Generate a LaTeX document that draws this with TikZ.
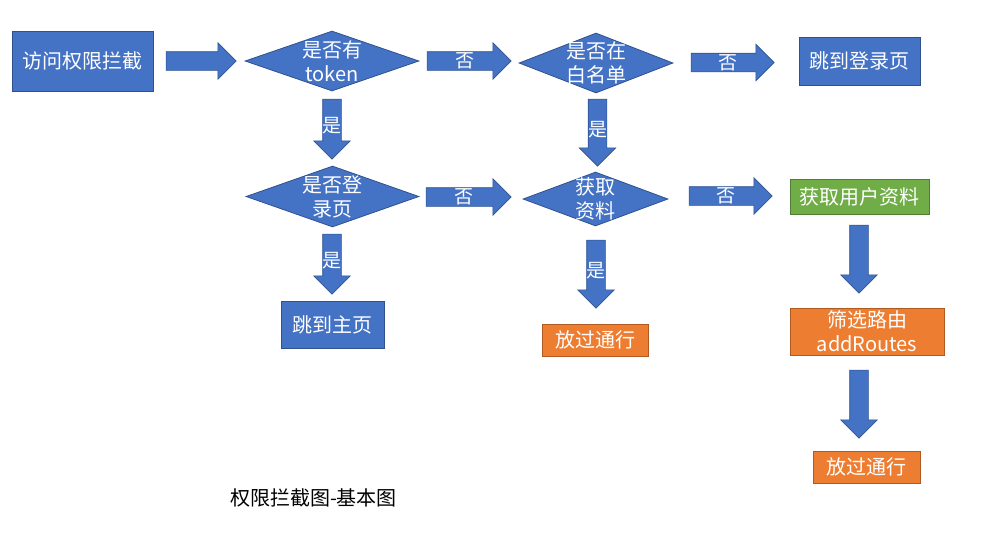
\documentclass[tikz,border=0pt]{standalone}
\usepackage{fontspec}
\setmainfont{Noto Sans CJK SC}
\usetikzlibrary{shapes.geometric,shapes.arrows}

\definecolor{boxblue}{HTML}{4472C4}
\definecolor{edgeblue}{HTML}{2F528F}
\definecolor{boxorange}{HTML}{ED7D31}
\definecolor{edgeorange}{HTML}{AE5A21}
\definecolor{boxgreen}{HTML}{70AD47}
\definecolor{edgegreen}{HTML}{507E32}

\tikzset{
  base/.style={rectangle,text=white,font=\fontsize{20}{24}\selectfont,line width=0.8pt,inner sep=0pt,align=center},
  bluebox/.style={base,fill=boxblue,draw=edgeblue},
  orangebox/.style={base,fill=boxorange,draw=edgeorange},
  greenbox/.style={base,fill=boxgreen,draw=edgegreen},
  decision/.style={diamond,fill=boxblue,draw=edgeblue,line width=0.8pt,inner sep=0pt},
  dtext/.style={text=white,font=\fontsize{20}{24}\selectfont,align=center,inner sep=0pt},
  barrow/.style={single arrow,fill=boxblue,draw=edgeblue,line width=0.6pt,inner sep=9pt,single arrow head extend=9pt},
  rarrow/.style={barrow},
  darrow/.style={barrow,shape border rotate=270},
  albl/.style={text=white,font=\fontsize{19}{19}\selectfont,inner sep=0pt},
  hlbl/.style={albl},
  vlbl/.style={albl,yshift=-1.5pt}
}

\begin{document}
\begin{tikzpicture}[x=1pt,y=-1pt]
\useasboundingbox (0,0) rectangle (985,544);
% first row
\node[bluebox,minimum width=141pt,minimum height=60pt] (start) at (82.5,61) {访问权限拦截};
\node[rarrow,minimum height=70pt] (a1) at (196.5,61) {};
\node[decision,minimum width=174pt,minimum height=60pt,label={[dtext]center:是否有\\token}] (token) at (332,61) {};
\node[rarrow,minimum height=84pt,label={[hlbl]center:否}] (a2) at (464.5,61) {};
\node[decision,minimum width=154pt,minimum height=60pt,label={[dtext]center:是否在\\白名单}] (white) at (596,63) {};
\node[rarrow,minimum height=83pt,label={[hlbl]center:否}] (a3) at (728,62.5) {};
\node[bluebox,minimum width=121pt,minimum height=48pt] (tologin) at (859.5,61) {跳到登录页};
% second row
\node[darrow,minimum height=60pt,label={[vlbl]center:是}] (v1) at (332,124.5) {};
\node[darrow,minimum height=67pt,label={[vlbl]center:是}] (v3) at (597.5,128) {};
\node[decision,minimum width=173pt,minimum height=61pt,label={[dtext]center:是否登\\录页}] (islogin) at (332.5,196.5) {};
\node[rarrow,minimum height=85pt,label={[hlbl]center:否}] (a4) at (464,197) {};
\node[decision,minimum width=145pt,minimum height=54pt,label={[dtext]center:获取\\资料}] (info) at (595.5,199) {};
\node[rarrow,minimum height=83pt,label={[hlbl]center:否}] (a5) at (726,196) {};
\node[greenbox,minimum width=139pt,minimum height=35pt] (profile) at (859.5,196.5) {获取用户资料};
% third row
\node[darrow,minimum height=60pt,label={[vlbl]center:是}] (v2) at (332,259.5) {};
\node[darrow,minimum height=68pt,label={[vlbl]center:是}] (v4) at (596,269.5) {};
\node[darrow,minimum height=68pt] (v5) at (859,254.5) {};
\node[bluebox,minimum width=103pt,minimum height=47pt] (tohome) at (332.5,324.5) {跳到主页};
\node[orangebox,minimum width=106pt,minimum height=32pt] (pass1) at (595,340) {放过通行};
\node[orangebox,minimum width=154pt,minimum height=47pt] (filter) at (867,331.5) {筛选路由\\addRoutes};
\node[darrow,minimum height=68pt] (v6) at (859,399.5) {};
\node[orangebox,minimum width=107pt,minimum height=32pt] (pass2) at (866.5,467) {放过通行};
% caption
\node[font=\fontsize{20}{24}\selectfont,inner sep=0pt] (caption) at (313.5,498) {权限拦截图-基本图};
\end{tikzpicture}
\end{document}
